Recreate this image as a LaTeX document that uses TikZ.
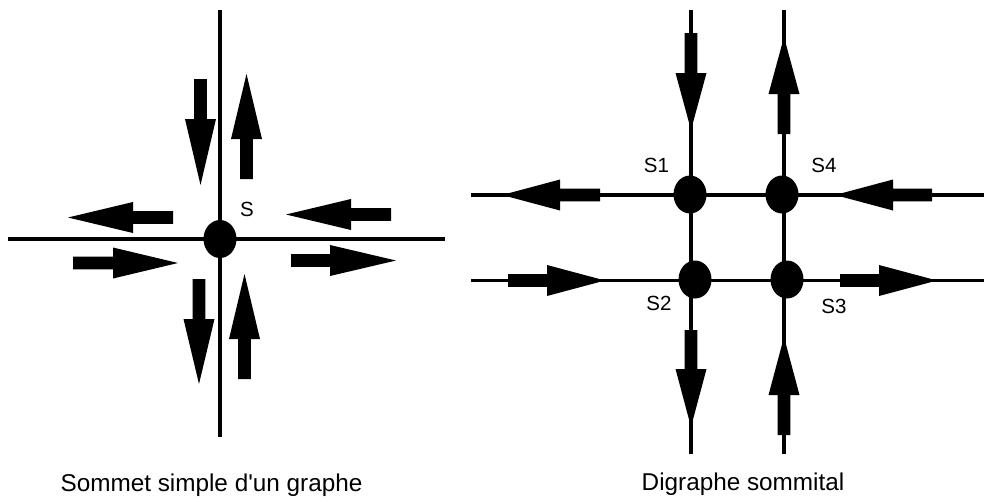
\documentclass[tikz,border=0pt]{standalone}
\usepackage{fontspec}
\setmainfont{Liberation Sans}
\usetikzlibrary{shapes.geometric}
\tikzset{
  edge/.style={line width=3.3pt},
  vertex/.style={ellipse, fill=black, draw=none, inner sep=0pt, minimum width=33pt, minimum height=38pt},
  lbl/.style={anchor=base, inner sep=0pt, font=\fontsize{20.5}{24}\selectfont},
  captiontext/.style={anchor=base, inner sep=0pt, font=\fontsize{24.3}{28}\selectfont},
}
% tail x, tail y, angle, shaft length, head length
\newcommand\fatarrow[5]{%
  \begin{scope}[shift={(#1,#2)}, rotate=#3]
    \fill (0,-6.3) -- (#4,-6.3) -- (#4,-15.5) -- ({#4+#5},0) -- (#4,15.5) -- (#4,6.3) -- (0,6.3) -- cycle;
  \end{scope}}
\begin{document}
\begin{tikzpicture}[x=1pt, y=-1pt]
\useasboundingbox (0,0) rectangle (984,498);
% ---------- left figure ----------
\coordinate (lt) at (220,10);
\coordinate (lb) at (220,437);
\coordinate (ll) at (8,239);
\coordinate (lr) at (445,239);
\draw[edge] (lt) -- (lb);
\draw[edge] (ll) -- (lr);
\node[vertex] (s) at (220,239) {};
\node[lbl] (slab) at (247,216) {S};
\fatarrow{200.5}{79}{-90}{40}{66}
\fatarrow{246.5}{179}{90}{40}{65}
\fatarrow{173}{217.5}{180}{40}{65}
\fatarrow{391}{214.5}{180}{40}{65}
\fatarrow{73}{263}{0}{40}{65}
\fatarrow{291}{260.5}{0}{39}{66}
\fatarrow{199}{279}{-90}{40}{65}
\fatarrow{244.5}{379}{90}{40}{65}
\node[captiontext] (c1) at (211.5,491) {Sommet simple d\textquotesingle un graphe};
% ---------- right figure ----------
\coordinate (v1t) at (691,10);
\coordinate (v1b) at (691,454);
\coordinate (v2t) at (784,10);
\coordinate (v2b) at (784,454);
\coordinate (h1l) at (471,195);
\coordinate (h1r) at (984,195);
\coordinate (h2l) at (471,280.5);
\coordinate (h2r) at (984,280.5);
\draw[edge] (v1t) -- (v1b);
\draw[edge] (v2t) -- (v2b);
\draw[edge] (h1l) -- (h1r);
\draw[edge] (h2l) -- (h2r);
\node[vertex] (s1) at (690,194.5) {};
\node[vertex] (s4) at (782,194.5) {};
\node[vertex] (s2) at (695,279.5) {};
\node[vertex] (s3) at (787,279.5) {};
\node[lbl] (l1) at (656.5,172) {S1};
\node[lbl] (l4) at (824,172) {S4};
\node[lbl] (l2) at (659,310) {S2};
\node[lbl] (l3) at (834,313) {S3};
\fatarrow{691}{33}{-90}{40}{57}
\fatarrow{784}{134}{90}{40}{57}
\fatarrow{600}{195}{180}{40}{58}
\fatarrow{932}{195}{180}{39}{58}
\fatarrow{508}{280.5}{0}{39}{58}
\fatarrow{840}{280.5}{0}{39}{58}
\fatarrow{691}{330}{-90}{39}{58}
\fatarrow{784}{435}{90}{40}{58}
\node[captiontext] (c2) at (743,490) {Digraphe sommital};
\end{tikzpicture}
\end{document}
